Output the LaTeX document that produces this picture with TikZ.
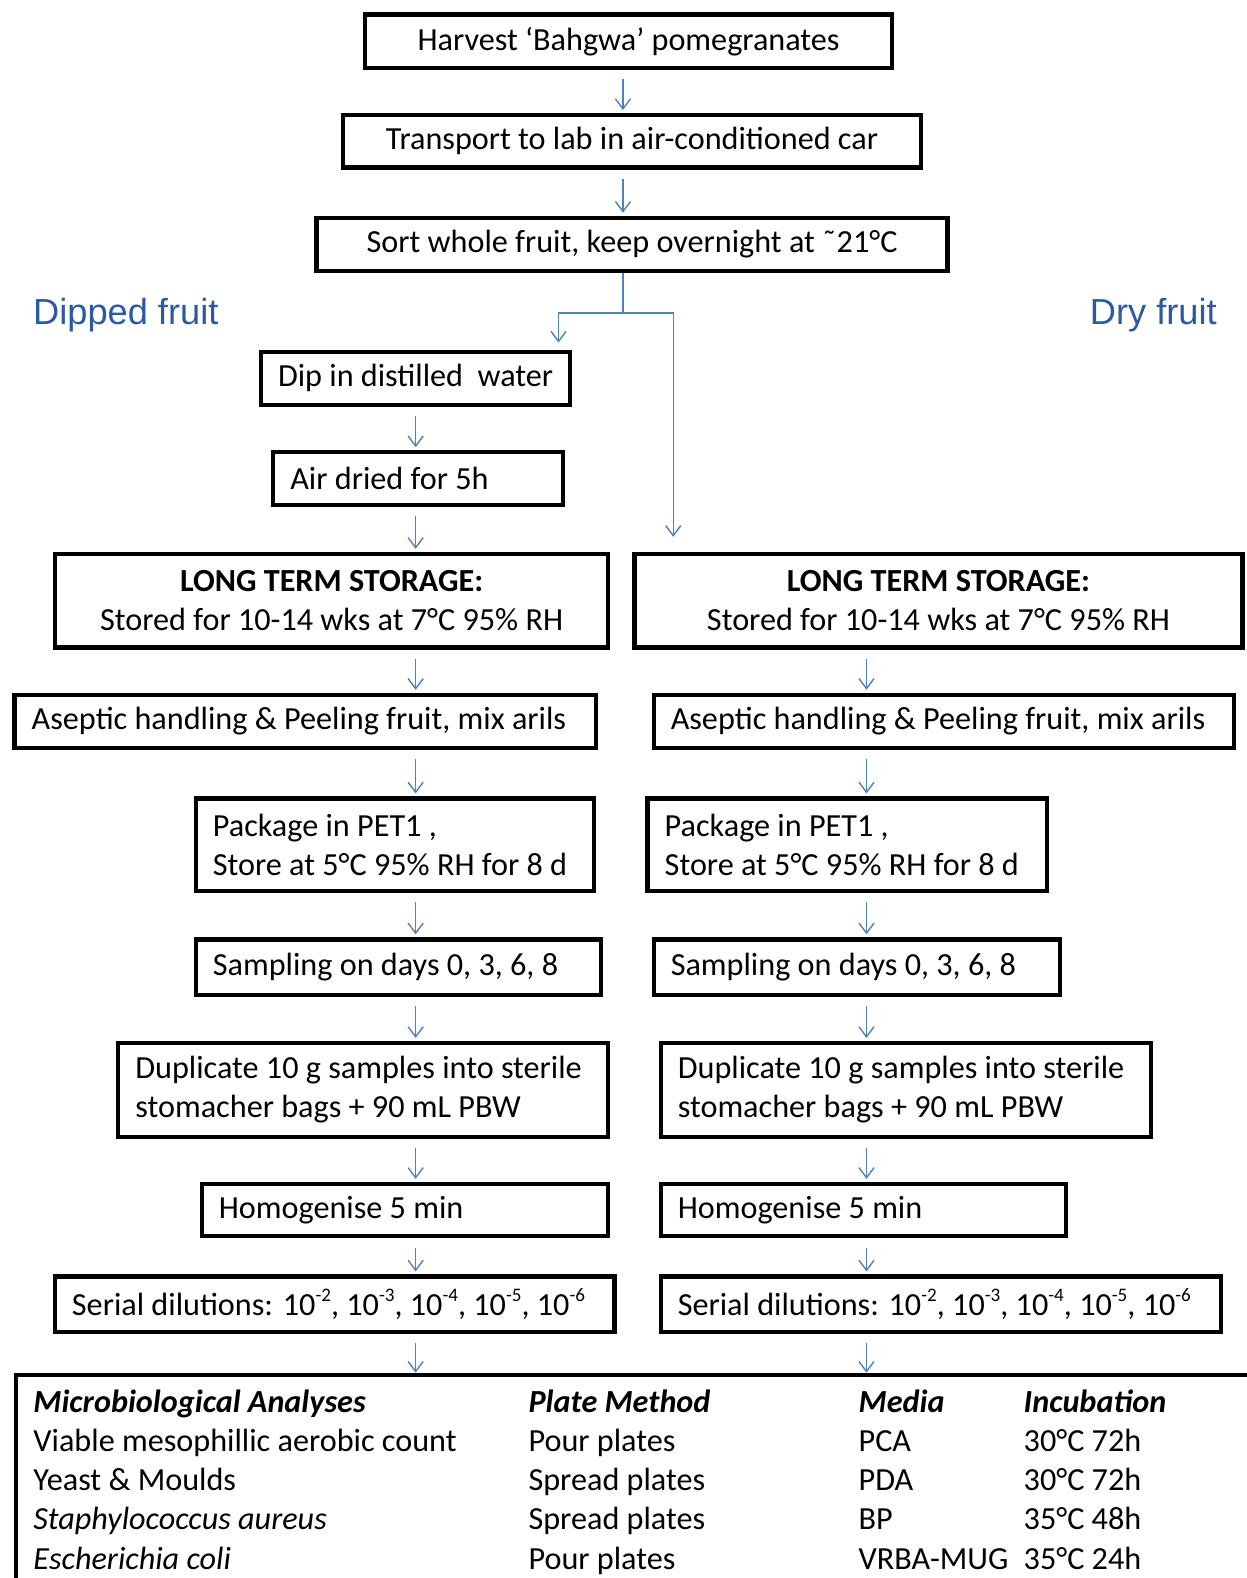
\documentclass[tikz,border=0pt]{standalone}
\usepackage{fontspec}
\setmainfont{Carlito}
\newfontfamily\arialfont{Liberation Sans}
\usetikzlibrary{matrix,arrows.meta,positioning,calc}
\definecolor{arrowblue}{RGB}{79,129,189}
\definecolor{labelblue}{RGB}{45,90,158}
\newcommand{\pw}[1]{\raisebox{0.45em}{\fontsize{19}{19}\selectfont #1}}

\begin{document}
\begin{tikzpicture}[x=1pt,y=-1pt,
		box/.style={draw, line width=4.2pt, inner sep=0pt, align=center, font=\fontsize{32}{39}\selectfont},
		lbox/.style={box, inner xsep=17pt, align=flush left},
		flowline/.style={draw=arrowblue, line width=1.4pt},
		flow/.style={flowline, -{Straight Barb[length=10pt,width=15pt]}, shorten <=9pt, shorten >=3pt},
		side/.style={text=labelblue, font=\arialfont\fontsize{36}{40}\selectfont}
	]
	\useasboundingbox (0,0) rectangle (1239,1568);
	% common trunk
	\node[box, minimum width=524pt, minimum height=53pt] (harvest) at (624.5,41) {Harvest ‘Bahgwa’ pomegranates};
	\node[box, minimum width=575pt, minimum height=52pt] (transport) at (628,140.5) {Transport to lab in air-conditioned car};
	\node[box, minimum width=627pt, minimum height=53pt] (sort) at (628,243) {Sort whole fruit, keep overnight at ˜21°C};
	\node[side] (dipped) at (125,313) {Dipped fruit};
	\node[side] (dry) at (1146,313) {Dry fruit};
	% dipped fruit
	\node[box, minimum width=307pt, minimum height=53pt] (dip) at (413,376) {Dip in distilled\ \ water};
	\node[lbox, text width=254pt, minimum height=52pt] (air) at (415.5,475.5) {\mbox{Air dried for 5h}};
	\node[box, minimum width=550pt, minimum height=93pt] (storeL) at (329.5,597) {\textbf{LONG TERM STORAGE:}\\Stored for 10-14 wks at 7°C 95\% RH};
	\node[lbox, text width=544pt, minimum height=53pt] (asepL) at (303.5,717) {\mbox{Aseptic handling \& Peeling\ fruit, mix arils}};
	\node[lbox, text width=362pt, minimum height=92pt] (packL) at (392.5,839.5) {\mbox{Package in PET1 ,}\\\mbox{Store at 5°C 95\% RH for 8 d}};
	\node[lbox, text width=369pt, minimum height=55pt] (sampL) at (396,961) {\mbox{Sampling on days 0, 3, 6, 8}};
	\node[lbox, text width=453pt, minimum height=93pt] (dupL) at (361,1083) {\mbox{Duplicate 10 g samples into sterile}\\\mbox{stomacher bags + 90 mL PBW}};
	\node[lbox, text width=370pt, minimum height=52pt] (homL) at (402.5,1202.5) {\mbox{Homogenise 5 min}};
	\node[lbox, text width=522pt, minimum height=55pt] (serL) at (332.5,1296) {\mbox{Serial dilutions: 10\pw{-2}, 10\pw{-3}, 10\pw{-4}, 10\pw{-5}, 10\pw{-6}}};
	% dry fruit
	\node[box, minimum width=604pt, minimum height=93pt] (storeR) at (932.5,597) {\textbf{LONG TERM STORAGE:}\\Stored for 10-14 wks at 7°C 95\% RH};
	\node[lbox, text width=543pt, minimum height=53pt] (asepR) at (938,717) {\mbox{Aseptic handling \& Peeling\ fruit, mix arils}};
	\node[lbox, text width=363pt, minimum height=92pt] (packR) at (842,839.5) {\mbox{Package in PET1 ,}\\\mbox{Store at 5°C 95\% RH for 8 d}};
	\node[lbox, text width=370pt, minimum height=55pt] (sampR) at (851.5,961) {\mbox{Sampling on days 0, 3, 6, 8}};
	\node[lbox, text width=453pt, minimum height=93pt] (dupR) at (900,1083) {\mbox{Duplicate 10 g samples into sterile}\\\mbox{stomacher bags + 90 mL PBW}};
	\node[lbox, text width=369pt, minimum height=52pt] (homR) at (858,1202.5) {\mbox{Homogenise 5 min}};
	\node[lbox, text width=523pt, minimum height=55pt] (serR) at (935,1296) {\mbox{Serial dilutions: 10\pw{-2}, 10\pw{-3}, 10\pw{-4}, 10\pw{-5}, 10\pw{-6}}};
	% analyses
	\node[draw, line width=4.2pt, inner sep=0pt, anchor=north west, minimum width=1300pt, minimum height=300pt] (frame) at (14,1364) {};
	\matrix (tab) [matrix of nodes, anchor=north west, inner sep=0pt, row sep=9pt, column sep=0pt,
		nodes={inner sep=0pt, text height=22pt, text depth=8pt, align=flush left, font=\fontsize{32}{39}\selectfont},
		column 1/.style={nodes={text width=492pt}},
		column 2/.style={nodes={text width=328pt}},
		column 3/.style={nodes={text width=164pt}},
		column 4/.style={nodes={text width=200pt}},
		row 1/.style={nodes={font=\fontsize{32}{39}\selectfont\bfseries\itshape}}
	] at (33,1381)
	{
		\mbox{Microbiological Analyses} & Plate Method & Media & Incubation\\
		\mbox{Viable mesophillic\ aerobic count} & Pour plates & PCA & 30°C 72h\\
		Yeast \& Moulds & Spread plates & PDA & 30°C 72h\\
		\textit{Staphylococcus aureus} & Spread plates & BP & 35°C 48h\\
		\textit{Escherichia coli} & Pour plates & \mbox{VRBA-MUG} & 35°C 24h\\
	};
	% connectors
	\coordinate (colL) at (413,0);
	\coordinate (colM) at (619,0);
	\coordinate (colR) at (861,0);
	\coordinate (brL) at (555,0);
	\coordinate (brR) at (669,0);
	\coordinate (split) at (619,311);
	\draw[flow] (harvest.south -| colM) -- (transport.north -| colM);
	\draw[flow] (transport.south -| colM) -- (sort.north -| colM);
	\draw[flowline] (sort.south -| colM) -- (split);
	\draw[flow, shorten <=0pt, shorten >=7pt] (split) -| (dip.north -| brL);
	\draw[flow, shorten <=0pt, shorten >=15pt] (split) -| (storeR.north -| brR);
	\draw[flow] (dip.south -| colL) -- (air.north -| colL);
	\draw[flow] (air.south -| colL) -- (storeL.north -| colL);
	\foreach \a/\b in {storeL/asepL, asepL/packL, packL/sampL, sampL/dupL, dupL/homL, homL/serL}
		\draw[flow] (\a.south -| colL) -- (\b.north -| colL);
	\foreach \a/\b in {storeR/asepR, asepR/packR, packR/sampR, sampR/dupR, dupR/homR, homR/serR}
		\draw[flow] (\a.south -| colR) -- (\b.north -| colR);
	\draw[flow, shorten >=0pt] (serL.south -| colL) -- (frame.north -| colL);
	\draw[flow, shorten >=0pt] (serR.south -| colR) -- (frame.north -| colR);
\end{tikzpicture}
\end{document}
